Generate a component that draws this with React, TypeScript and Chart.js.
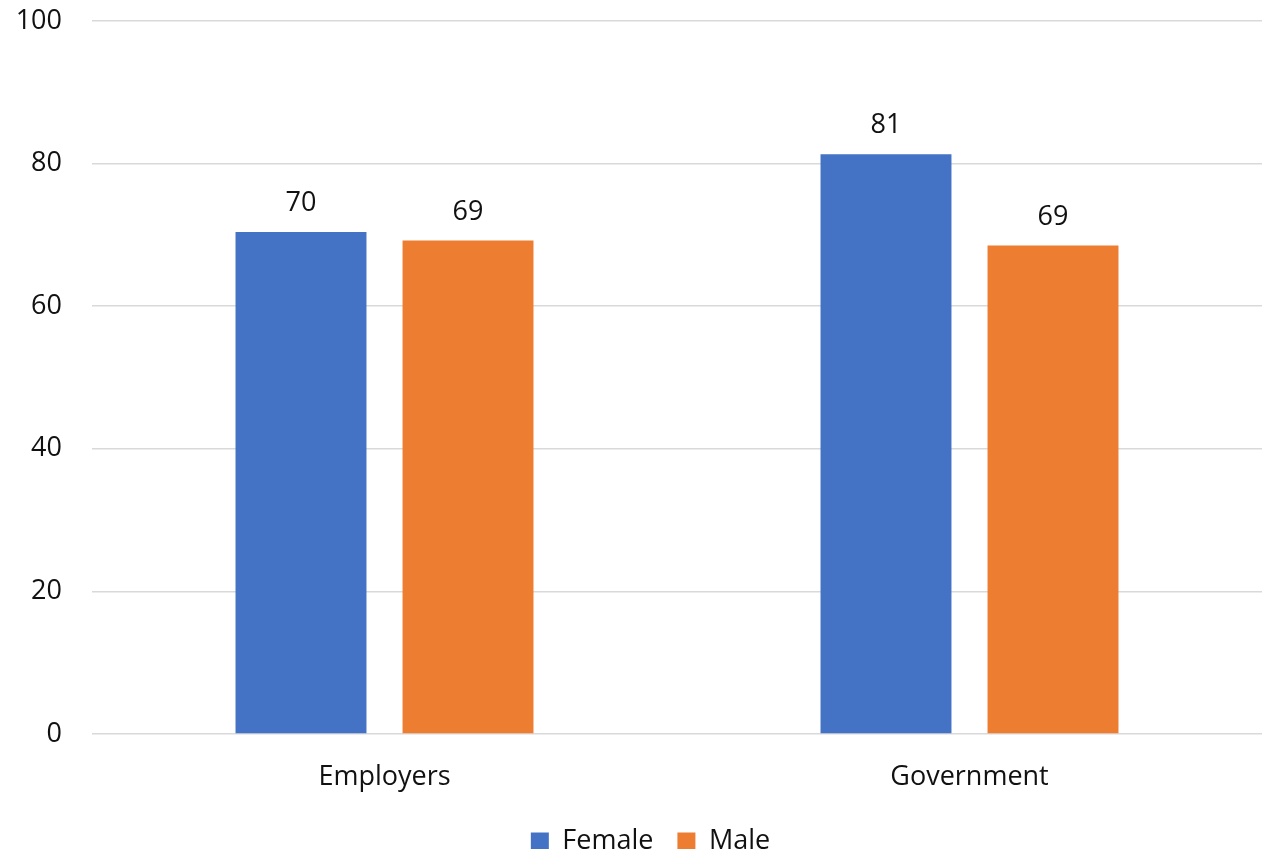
import React, { useEffect, useRef } from "react";
import { Chart, registerables } from "chart.js";

Chart.register(...registerables);

// Survey shares by sector, split by gender
const categories = ["Employers", "Government"];
const seriesNames = ["Female", "Male"];
const femaleValues = [70.4, 81.3];
const maleValues = [69.2, 68.5];
const seriesColors = ["#4472C4", "#ED7D31"];
const yMin = 0;
const yMax = 100;
const yStep = 20;

const FONT = "'Open Sans', sans-serif";
const FONT_SIZE = 27;
const TEXT_COLOR = "#111111";

// Writes each bar's rounded value above it
const valueLabels = {
  id: "valueLabels",
  afterDatasetsDraw(chart: any) {
    const ctx = chart.ctx;
    ctx.save();
    ctx.font = `${FONT_SIZE}px ${FONT}`;
    ctx.fillStyle = TEXT_COLOR;
    ctx.textAlign = "center";
    ctx.textBaseline = "alphabetic";
    chart.data.datasets.forEach((ds: any, i: number) => {
      chart.getDatasetMeta(i).data.forEach((bar: any, j: number) => {
        ctx.fillText(String(Math.round(ds.data[j])), bar.x, bar.y - 21);
      });
    });
    ctx.restore();
  },
};

// Nudges the legend row a little to the right of the canvas centre
const legendOffset = {
  id: "legendOffset",
  afterLayout(chart: any) {
    if (chart.legend) chart.legend.left += 24;
  },
};

export default function App() {
  const canvasRef = useRef<HTMLCanvasElement | null>(null);

  useEffect(() => {
    if (!canvasRef.current) return;
    const chart = new Chart(canvasRef.current, {
      type: "bar",
      data: {
        labels: categories,
        datasets: [
          {
            label: seriesNames[0],
            data: femaleValues,
            backgroundColor: seriesColors[0],
            categoryPercentage: 0.571,
            barPercentage: 0.784,
          },
          {
            label: seriesNames[1],
            data: maleValues,
            backgroundColor: seriesColors[1],
            categoryPercentage: 0.571,
            barPercentage: 0.784,
          },
        ],
      },
      options: {
        animation: false,
        responsive: true,
        maintainAspectRatio: false,
        layout: { padding: { top: 21, left: 15, right: 2, bottom: 0 } },
        plugins: {
          tooltip: { enabled: false },
          legend: {
            position: "bottom",
            labels: {
              color: TEXT_COLOR,
              font: { family: FONT, size: FONT_SIZE },
              boxWidth: 18,
              boxHeight: 18,
              padding: 24,
            },
          },
        },
        scales: {
          x: {
            grid: { display: false },
            border: { display: false },
            ticks: {
              color: TEXT_COLOR,
              font: { family: FONT, size: FONT_SIZE },
              padding: 19,
            },
            afterFit(scale: any) {
              scale.height = 70;
              scale.paddingLeft = 0;
              scale.paddingRight = 0;
            },
          },
          y: {
            min: yMin,
            max: yMax,
            grid: { color: "#d9d9d9", lineWidth: 1.5, drawTicks: false },
            border: { display: false },
            ticks: {
              stepSize: yStep,
              color: TEXT_COLOR,
              font: { family: FONT, size: FONT_SIZE },
              padding: 30,
            },
            afterFit(scale: any) {
              scale.width = 77;
              scale.paddingTop = 0;
              scale.paddingBottom = 0;
            },
          },
        },
      },
      plugins: [valueLabels, legendOffset],
    });
    return () => chart.destroy();
  }, []);

  return (
    <div
      style={{
        position: "fixed",
        left: 0,
        top: 0,
        width: 1264,
        height: 849,
        overflow: "hidden",
        background: "#ffffff",
      }}
    >
      <div style={{ position: "relative", width: 1264, height: 865 }}>
        <canvas ref={canvasRef} />
      </div>
    </div>
  );
}
